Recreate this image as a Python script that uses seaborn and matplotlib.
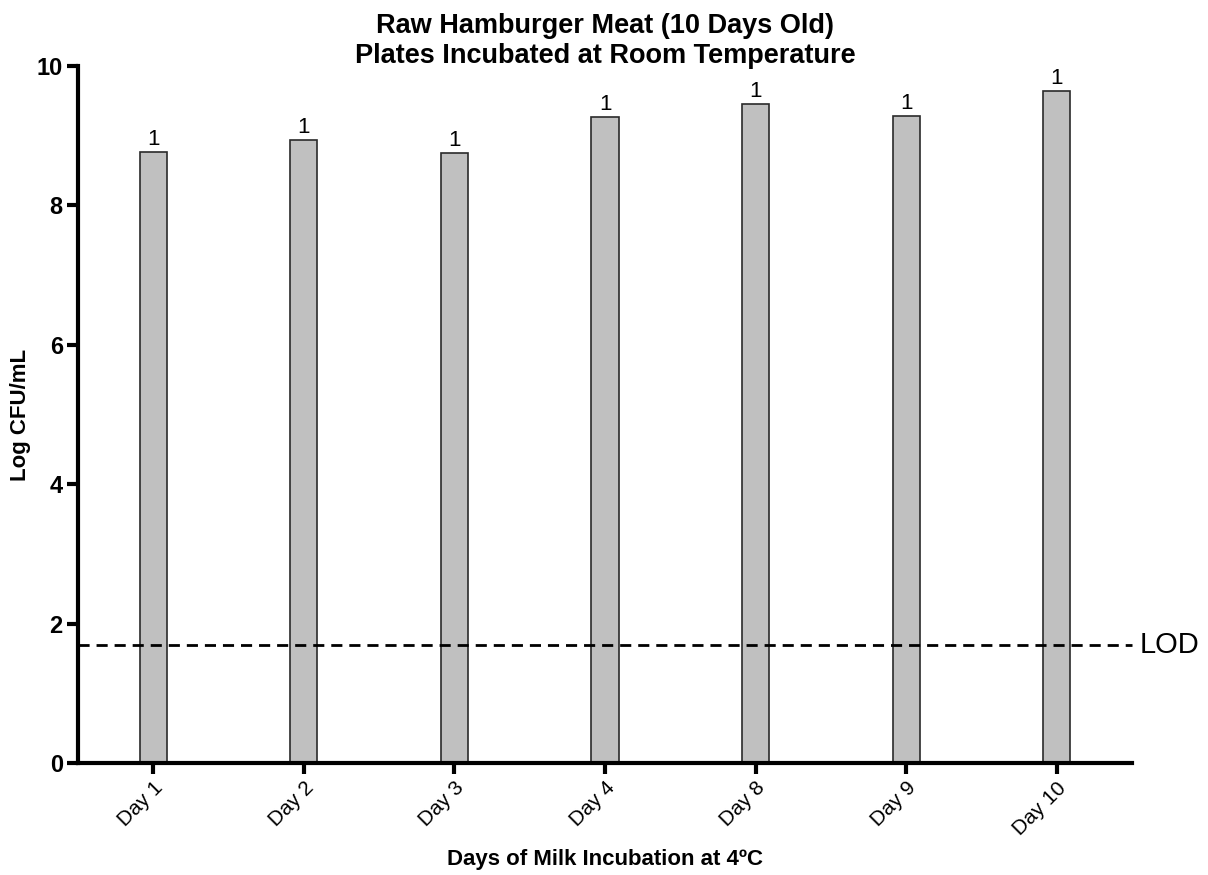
import matplotlib
matplotlib.use("Agg")
import matplotlib.pyplot as plt
import seaborn as sns
import pandas as pd

days = ["Day 1", "Day 2", "Day 3", "Day 4", "Day 8", "Day 9", "Day 10"]
log_cfu = [8.77, 8.94, 8.75, 9.27, 9.45, 9.28, 9.64]
n_labels = ["1", "1", "1", "1", "1", "1", "1"]
lod = 1.7

sns.set_theme(style="white")
plt.rcParams['font.family'] = ['Liberation Sans', 'DejaVu Sans']
plt.rcParams['text.color'] = 'black'
plt.rcParams['axes.labelcolor'] = 'black'
plt.rcParams['xtick.color'] = 'black'
plt.rcParams['ytick.color'] = 'black'

df = pd.DataFrame({"day": days, "val": log_cfu})

fig = plt.figure(figsize=(12.08, 8.75), dpi=100)
ax = fig.add_axes([0.0646, 0.128, 0.8725, 0.7966])

sns.barplot(data=df, x="day", y="val", color="#c0c0c0", width=0.18,
            edgecolor="#2a2a2a", linewidth=1.2, saturation=1, ax=ax)

ax.set_xlim(-0.5, 6.5)
ax.set_ylim(0, 10)
ax.set_yticks([0, 2, 4, 6, 8, 10])
ax.set_yticklabels(["0", "2", "4", "6", "8", "10"], fontweight="bold", fontsize=17)
ax.set_xticks(range(len(days)))
ax.set_xticklabels(days, rotation=45, ha="right", rotation_mode="anchor", fontsize=15)

for i, (v, t) in enumerate(zip(log_cfu, n_labels)):
    ax.text(i, v + 0.03, t, ha="center", va="bottom", fontsize=16)

ax.axhline(lod, color="black", linestyle=(0, (4, 2.5)), linewidth=2, clip_on=False)
ax.text(6.55, lod, "LOD", ha="left", va="center", fontsize=21, clip_on=False)

for s in ["top", "right"]:
    ax.spines[s].set_visible(False)
for s in ["left", "bottom"]:
    ax.spines[s].set_linewidth(3)
    ax.spines[s].set_color("black")
ax.tick_params(axis="both", direction="out", length=8, width=3, color="black",
               left=True, bottom=True, pad=3)

ax.set_ylabel("Log CFU/mL", fontweight="bold", fontsize=16)
ax.yaxis.set_label_coords(-0.055, 0.5)
ax.set_xlabel("Days of Milk Incubation at 4ºC", fontweight="bold", fontsize=16)
ax.xaxis.set_label_coords(0.5, -0.139)
ax.xaxis.label.set_va("center")
ax.yaxis.label.set_va("center")
ax.set_title("Raw Hamburger Meat (10 Days Old)\nPlates Incubated at Room Temperature",
             fontweight="bold", fontsize=19.5, pad=2)

fig.savefig("out.png", dpi=100)
